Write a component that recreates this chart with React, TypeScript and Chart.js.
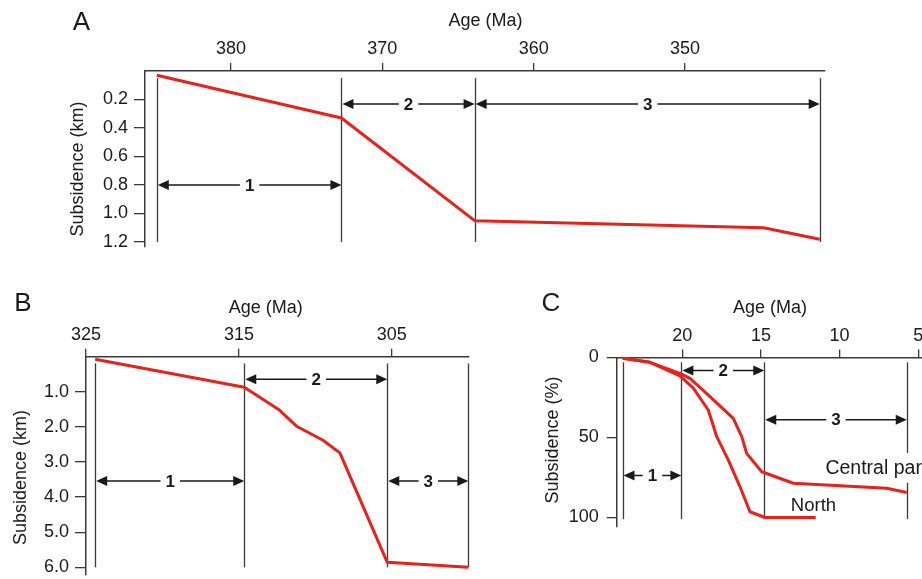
import React, { useEffect, useRef } from 'react';
import { Chart, registerables } from 'chart.js';

Chart.register(...registerables);

// ---------- Panel A ----------
const agesA = [384.9, 372.7, 363.9, 344.8, 341.1];
const subsA = [0.03, 0.33, 1.05, 1.1, 1.18];
const xTicksA = [380, 370, 360, 350];
const yTicksA = [0.2, 0.4, 0.6, 0.8, 1.0, 1.2];
const boundsA = [384.9, 372.7, 363.9, 341.1];
const arrowYA = [0.8, 0.232, 0.232];

// ---------- Panel B ----------
const agesB = [324.4, 314.65, 312.35, 311.2, 309.5, 308.4, 305.3, 300];
const subsB = [0.07, 0.87, 1.52, 1.99, 2.38, 2.74, 5.86, 6.0];
const xTicksB = [325, 315, 305];
const yTicksB = [1, 2, 3, 4, 5, 6];
const boundsB = [324.4, 314.65, 305.3, 300];
const arrowYB = [3.54, 0.64, 3.54];

// ---------- Panel C ----------
const agesCentral = [23.79, 22.05, 20.15, 19.51, 18.24, 16.76, 16.22, 15.91, 14.95, 12.94, 7.0, 5.73];
const subsCentral = [0.5, 3, 9.9, 13, 24.5, 38, 49.5, 59.9, 71.4, 78.6, 81.7, 84.4];
const agesNorth = [23.79, 22.05, 20.15, 19.3, 18.35, 17.81, 17.08, 16.33, 15.7, 14.74, 11.52];
const subsNorth = [0.5, 3, 11.5, 19.2, 32.8, 49.5, 64, 80.8, 96.4, 100, 100];
const xTicksC = [20, 15, 10, 5];
const yTicksC = [0, 50, 100];
const boundsC = [23.8, 20.06, 14.79, 5.73];
const arrowYC = [73.7, 8.1, 38.9];

const phaseLabels = ['1', '2', '3'];

const RED = '#e3231d';
const AXIS = '#3a3a3a';
const INK = '#1a1a1a';
const FONT = "'Liberation Sans', Arial, Helvetica, sans-serif";
const YW = 60;
const XH = 40;

type Series = { ages: number[]; values: number[] };
type Cfg = {
  box: { left: number; top: number; width: number; height: number };
  area: { left: number; top: number; right: number; bottom: number };
  xMin: number; xMax: number; yMin: number; yMax: number;
  xTicks: number[]; yTicks: number[]; yDec: number;
  yTickLen: number; yPad: number;
  series: Series[];
  bounds: number[]; arrowY: number[]; lineTop: number; lineBottom: number;
  letter: { text: string; x: number; y: number };
  xTitle: { x: number; y: number };
  yTitle: { text: string; x: number; y: number };
  curveLabels?: { text: string; age: number; value: number; size: number; bg?: boolean }[];
};

const panels: Cfg[] = [
  {
    box: { left: 0, top: 0, width: 922, height: 272 },
    area: { left: 145, top: 71, right: 825, bottom: 247 },
    xMin: 340.75, xMax: 385.68, yMin: 0, yMax: 1.235,
    xTicks: xTicksA, yTicks: yTicksA, yDec: 1, yTickLen: 11, yPad: 6,
    series: [{ ages: agesA, values: subsA }],
    bounds: boundsA, arrowY: arrowYA, lineTop: 0.05, lineBottom: 1.2,
    letter: { text: 'A', x: 81.5, y: 22.5 },
    xTitle: { x: 485.5, y: 21 },
    yTitle: { text: 'Subsidence (km)', x: 78, y: 169 },
  },
  {
    box: { left: 0, top: 275, width: 500, height: 304 },
    area: { left: 86, top: 356.7, right: 468.3, bottom: 575 },
    xMin: 300, xMax: 325, yMin: 0, yMax: 6.22,
    xTicks: xTicksB, yTicks: yTicksB, yDec: 1, yTickLen: 11, yPad: 6,
    series: [{ ages: agesB, values: subsB }],
    bounds: boundsB, arrowY: arrowYB, lineTop: 0.19, lineBottom: 6.0,
    letter: { text: 'B', x: 23, y: 304 },
    xTitle: { x: 265.7, y: 308 },
    yTitle: { text: 'Subsidence (km)', x: 20.7, y: 477.5 },
  },
  {
    box: { left: 500, top: 275, width: 460, height: 304 },
    area: { left: 616.7, top: 357.5, right: 950, bottom: 526.7 },
    xMin: 2.98, xMax: 24.17, yMin: 0, yMax: 105.75,
    xTicks: xTicksC, yTicks: yTicksC, yDec: 0, yTickLen: 10, yPad: 8,
    series: [
      { ages: agesCentral, values: subsCentral },
      { ages: agesNorth, values: subsNorth },
    ],
    bounds: boundsC, arrowY: arrowYC, lineTop: 3, lineBottom: 101,
    letter: { text: 'C', x: 551, y: 304 },
    xTitle: { x: 770, y: 308 },
    yTitle: { text: 'Subsidence (%)', x: 553, y: 440 },
    curveLabels: [
      { text: 'Central part', age: 10.9, value: 69.6, size: 19.5, bg: true },
      { text: 'North', age: 13.1, value: 92.5, size: 18.5 },
    ],
  },
];

function drawArrow(ctx: CanvasRenderingContext2D, x1: number, x2: number, y: number, label: string) {
  const head = 11;
  const hh = 5;
  ctx.save();
  ctx.font = `bold 17px ${FONT}`;
  const w = ctx.measureText(label).width;
  const cx = (x1 + x2) / 2;
  const gap = w / 2 + 5;
  ctx.strokeStyle = INK;
  ctx.fillStyle = INK;
  ctx.lineWidth = 1.5;
  ctx.beginPath();
  ctx.moveTo(x1 + head - 1, y);
  ctx.lineTo(cx - gap, y);
  ctx.moveTo(cx + gap, y);
  ctx.lineTo(x2 - head + 1, y);
  ctx.stroke();
  ctx.beginPath();
  ctx.moveTo(x1, y);
  ctx.lineTo(x1 + head, y - hh);
  ctx.lineTo(x1 + head, y + hh);
  ctx.closePath();
  ctx.fill();
  ctx.beginPath();
  ctx.moveTo(x2, y);
  ctx.lineTo(x2 - head, y - hh);
  ctx.lineTo(x2 - head, y + hh);
  ctx.closePath();
  ctx.fill();
  ctx.textAlign = 'center';
  ctx.textBaseline = 'middle';
  ctx.fillText(label, cx, y + 1);
  ctx.restore();
}

function makeChart(canvas: HTMLCanvasElement, cfg: Cfg) {
  const { box, area } = cfg;
  const ox = box.left;
  const oy = box.top;
  const annot = {
    id: 'annot',
    beforeDatasetsDraw(chart: any) {
      const ctx: CanvasRenderingContext2D = chart.ctx;
      const xs = chart.scales.x;
      const ys = chart.scales.y;
      ctx.save();
      // phase boundary lines
      ctx.strokeStyle = AXIS;
      ctx.lineWidth = 1.3;
      const yt = ys.getPixelForValue(cfg.lineTop);
      const yb = ys.getPixelForValue(cfg.lineBottom);
      cfg.bounds.forEach((b) => {
        const px = Math.round(xs.getPixelForValue(b)) + 0.5;
        ctx.beginPath();
        ctx.moveTo(px, yt);
        ctx.lineTo(px, yb);
        ctx.stroke();
      });
      // arrows
      for (let i = 0; i < cfg.arrowY.length; i++) {
        const x1 = xs.getPixelForValue(cfg.bounds[i]) + 1;
        const x2 = xs.getPixelForValue(cfg.bounds[i + 1]);
        drawArrow(ctx, x1, x2, ys.getPixelForValue(cfg.arrowY[i]), phaseLabels[i]);
      }
      // curve labels
      ctx.textAlign = 'left';
      ctx.textBaseline = 'middle';
      (cfg.curveLabels || []).forEach((l) => {
        ctx.font = `${l.size}px ${FONT}`;
        const px = xs.getPixelForValue(l.age);
        const py = ys.getPixelForValue(l.value);
        if (l.bg) {
          const w = ctx.measureText(l.text).width;
          ctx.fillStyle = '#ffffff';
          ctx.fillRect(px - 4, py - 16, w + 8, 30);
        }
        ctx.fillStyle = INK;
        ctx.fillText(l.text, px, py);
      });
      // titles
      ctx.fillStyle = INK;
      ctx.textAlign = 'center';
      ctx.font = `26px ${FONT}`;
      ctx.fillText(cfg.letter.text, cfg.letter.x - ox, cfg.letter.y - oy);
      ctx.font = `18px ${FONT}`;
      ctx.fillText('Age (Ma)', cfg.xTitle.x - ox, cfg.xTitle.y - oy);
      ctx.save();
      ctx.translate(cfg.yTitle.x - ox, cfg.yTitle.y - oy);
      ctx.rotate(-Math.PI / 2);
      ctx.fillText(cfg.yTitle.text, 0, 0);
      ctx.restore();
      ctx.restore();
    },
  };

  return new Chart(canvas, {
    type: 'line',
    data: {
      datasets: cfg.series.map((s) => ({
        data: s.ages.map((a, i) => ({ x: a, y: s.values[i] })),
        borderColor: RED,
        borderWidth: 3,
        pointRadius: 0,
        tension: 0,
        clip: false as any,
        borderJoinStyle: 'round' as const,
        fill: false,
      })),
    },
    options: {
      responsive: false,
      animation: false,
      events: [],
      layout: {
        padding: {
          left: area.left - box.left - YW,
          top: area.top - box.top - XH,
          right: box.left + box.width - area.right,
          bottom: box.top + box.height - area.bottom,
        },
      },
      plugins: { legend: { display: false }, tooltip: { enabled: false } },
      scales: {
        x: {
          type: 'linear',
          position: 'top',
          reverse: true,
          min: cfg.xMin,
          max: cfg.xMax,
          afterBuildTicks: (s: any) => {
            s.ticks = cfg.xTicks.map((v) => ({ value: v }));
          },
          afterFit: (s: any) => {
            s.height = XH;
            s.paddingLeft = 0;
            s.paddingRight = 0;
          },
          ticks: {
            autoSkip: false,
            maxRotation: 0,
            padding: 3,
            color: INK,
            font: { family: FONT, size: 18 },
            callback: (v: any) => String(v),
          },
          grid: { drawOnChartArea: false, drawTicks: true, tickLength: 8, color: AXIS, lineWidth: 1.3 },
          border: { display: true, color: AXIS, width: 1.5 },
        },
        y: {
          type: 'linear',
          position: 'left',
          reverse: true,
          min: cfg.yMin,
          max: cfg.yMax,
          afterBuildTicks: (s: any) => {
            s.ticks = cfg.yTicks.map((v) => ({ value: v }));
          },
          afterFit: (s: any) => {
            s.width = YW;
            s.paddingTop = 0;
            s.paddingBottom = 0;
          },
          ticks: {
            autoSkip: false,
            padding: cfg.yPad,
            color: INK,
            font: { family: FONT, size: 18 },
            callback: (v: any) => Number(v).toFixed(cfg.yDec),
          },
          grid: { drawOnChartArea: false, drawTicks: true, tickLength: cfg.yTickLen, color: AXIS, lineWidth: 1.3 },
          border: { display: true, color: AXIS, width: 1.5 },
        },
      },
    } as any,
    plugins: [annot],
  });
}

function Panel({ cfg }: { cfg: Cfg }) {
  const ref = useRef<HTMLCanvasElement>(null);
  useEffect(() => {
    if (!ref.current) return;
    const chart = makeChart(ref.current, cfg);
    return () => chart.destroy();
  }, [cfg]);
  return (
    <canvas
      ref={ref}
      width={cfg.box.width}
      height={cfg.box.height}
      style={{
        position: 'absolute',
        left: cfg.box.left,
        top: cfg.box.top,
        width: cfg.box.width,
        height: cfg.box.height,
      }}
    />
  );
}

export default function App() {
  return (
    <div
      style={{
        position: 'fixed',
        left: 0,
        top: 0,
        width: 922,
        height: 579,
        overflow: 'hidden',
        background: '#ffffff',
      }}
    >
      {panels.map((p, i) => (
        <Panel key={i} cfg={p} />
      ))}
    </div>
  );
}
